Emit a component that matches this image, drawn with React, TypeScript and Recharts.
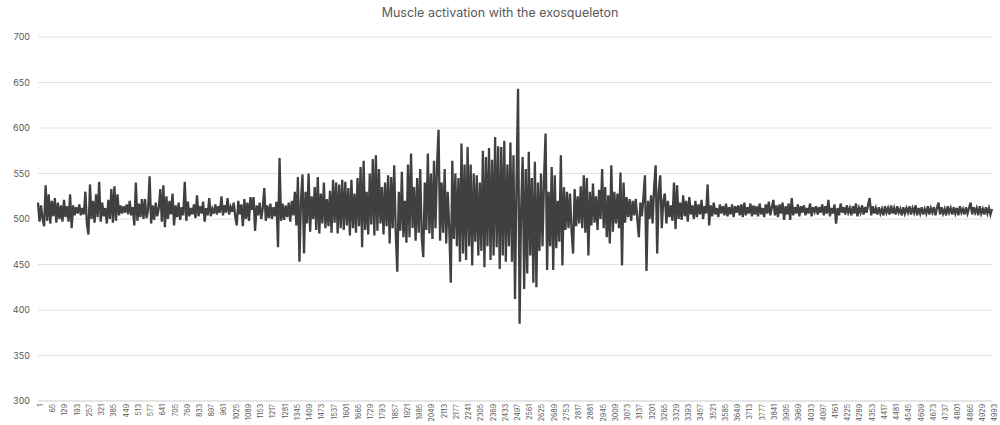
import React from 'react';
import { LineChart, Line, XAxis, YAxis, CartesianGrid } from 'recharts';

const TITLE = 'Muscle activation with the exosqueleton';
const SAMPLE_STEP = 8;
const Y_TICKS = [300, 350, 400, 450, 500, 550, 600, 650, 700];

// EMG amplitude, one reading per 8 samples
const activation: number[] = [
  518, 497, 515, 500, 492, 537, 498, 527, 495, 520,
  503, 523, 496, 518, 500, 515, 497, 521, 502, 514,
  497, 527, 490, 515, 504, 513, 506, 516, 504, 512,
  505, 530, 494, 483, 538, 500, 520, 496, 527, 502,
  541, 497, 518, 503, 512, 495, 521, 500, 533, 496,
  536, 498, 527, 504, 515, 506, 514, 507, 516, 505,
  520, 504, 513, 493, 540, 498, 517, 502, 522, 500,
  522, 501, 510, 547, 495, 515, 499, 518, 503, 512,
  533, 497, 537, 491, 525, 500, 520, 505, 528, 493,
  515, 502, 518, 499, 513, 504, 541, 498, 519, 503,
  512, 505, 516, 501, 526, 503, 514, 506, 519, 497,
  512, 504, 523, 503, 511, 506, 516, 505, 514, 507,
  525, 504, 515, 507, 523, 505, 513, 508, 518, 503,
  493, 520, 505, 516, 492, 522, 500, 518, 498, 524,
  510, 524, 487, 515, 504, 518, 500, 512, 534, 498,
  515, 501, 517, 500, 513, 503, 519, 469, 567, 498,
  517, 499, 515, 502, 518, 497, 520, 504, 530, 493,
  546, 453, 520, 549, 462, 530, 495, 550, 486, 525,
  500, 535, 488, 546, 484, 528, 495, 540, 490, 522,
  492, 531, 485, 543, 496, 540, 484, 538, 490, 543,
  488, 541, 493, 534, 482, 543, 490, 528, 485, 545,
  492, 557, 469, 564, 488, 530, 483, 550, 494, 566,
  482, 570, 487, 555, 495, 535, 483, 540, 492, 548,
  473, 546, 490, 559, 484, 442, 530, 487, 552, 480,
  520, 474, 560, 480, 572, 490, 535, 476, 545, 485,
  555, 480, 458, 540, 488, 572, 484, 550, 478, 564,
  490, 560, 598, 476, 540, 485, 555, 473, 530, 489,
  430, 564, 478, 550, 470, 545, 453, 583, 462, 560,
  455, 579, 470, 560, 449, 550, 475, 548, 460, 540,
  465, 575, 447, 568, 470, 578, 455, 565, 460, 590,
  469, 580, 445, 579, 460, 586, 453, 560, 470, 584,
  453, 570, 412, 540, 643, 385, 510, 568, 423, 555,
  440, 574, 460, 545, 430, 563, 425, 540, 465, 550,
  470, 545, 594, 444, 530, 470, 557, 444, 548, 468,
  520, 475, 570, 449, 535, 488, 530, 490, 528, 487,
  462, 533, 492, 525, 495, 536, 490, 548, 485, 545,
  460, 530, 493, 539, 496, 525, 488, 532, 500, 555,
  490, 535, 480, 526, 473, 559, 486, 530, 495, 528,
  490, 551, 449, 540, 496, 524, 502, 522, 498, 520,
  504, 522, 500, 480, 518, 503, 524, 548, 443, 520,
  500, 526, 495, 535, 559, 462, 530, 548, 490, 520,
  528, 495, 520, 502, 515, 498, 540, 489, 537, 500,
  518, 499, 526, 503, 520, 497, 524, 505, 515, 500,
  520, 502, 516, 505, 521, 500, 514, 506, 538, 493,
  515, 503, 518, 505, 512, 502, 516, 506, 514, 504,
  517, 503, 513, 505, 516, 502, 514, 507, 515, 504,
  516, 502, 518, 504, 513, 506, 517, 503, 515, 505,
  514, 503, 517, 505, 512, 502, 516, 506, 519, 504,
  513, 521, 504, 515, 502, 516, 506, 518, 499, 514,
  505, 517, 499, 523, 504, 513, 506, 516, 503, 514,
  507, 515, 504, 512, 506, 517, 503, 513, 508, 514,
  505, 513, 507, 516, 504, 514, 506, 521, 503, 512,
  506, 516, 495, 512, 504, 517, 507, 513, 505, 515,
  507, 512, 504, 514, 506, 517, 503, 512, 507, 515,
  505, 513, 507, 516, 523, 504, 514, 506, 512, 505,
  513, 506, 511, 504, 514, 507, 512, 505, 515, 506,
  512, 505, 514, 507, 511, 504, 513, 506, 512, 507,
  514, 505, 512, 507, 515, 504, 512, 506, 513, 505,
  511, 506, 514, 505, 512, 507, 513, 504, 512, 518,
  505, 513, 506, 511, 504, 514, 507, 512, 505, 513,
  506, 512, 504, 514, 507, 511, 505, 513, 506, 512,
  518, 505, 513, 507, 512, 504, 514, 506, 511, 505,
  513, 506, 512, 505, 511,
];

const sampleIndex: number[] = activation.map((_, i) => 1 + i * SAMPLE_STEP);

const data = activation.map((v, i) => ({ sample: sampleIndex[i], value: v }));

const FONT = 'Inter, "Open Sans", "Noto Sans", sans-serif';

export default function App() {
  return (
    <div style={{ position: 'absolute', left: 0, top: 0, width: 1000, height: 425, background: '#fff', fontFamily: FONT }}>
      <div
        style={{
          position: 'absolute',
          left: 0,
          top: 5,
          width: 1000,
          textAlign: 'center',
          fontSize: 12.5,
          color: '#595959',
          fontFamily: FONT,
        }}
      >
        {TITLE}
      </div>
      <LineChart width={1000} height={425} data={data} margin={{ top: 37, right: 8, bottom: 0, left: 0 }}>
        <CartesianGrid vertical={false} stroke="#e2e2e2" strokeWidth={1} />
        <XAxis
          dataKey="sample"
          type="category"
          interval={7}
          height={24}
          tickLine={false}
          tickSize={2}
          axisLine={{ stroke: '#d9d9d9' }}
          angle={-90}
          textAnchor="end"
          tickMargin={1}
          tick={{ fontSize: 7, fill: '#595959', fontFamily: FONT }}
        />
        <YAxis
          domain={[300, 700]}
          ticks={Y_TICKS}
          width={38}
          tickLine={false}
          axisLine={false}
          tick={{ fontSize: 9, fill: '#595959', fontFamily: FONT }}
        />
        <Line
          type="linear"
          dataKey="value"
          stroke="#404040"
          strokeWidth={2.3}
          dot={false}
          isAnimationActive={false}
        />
      </LineChart>
    </div>
  );
}
